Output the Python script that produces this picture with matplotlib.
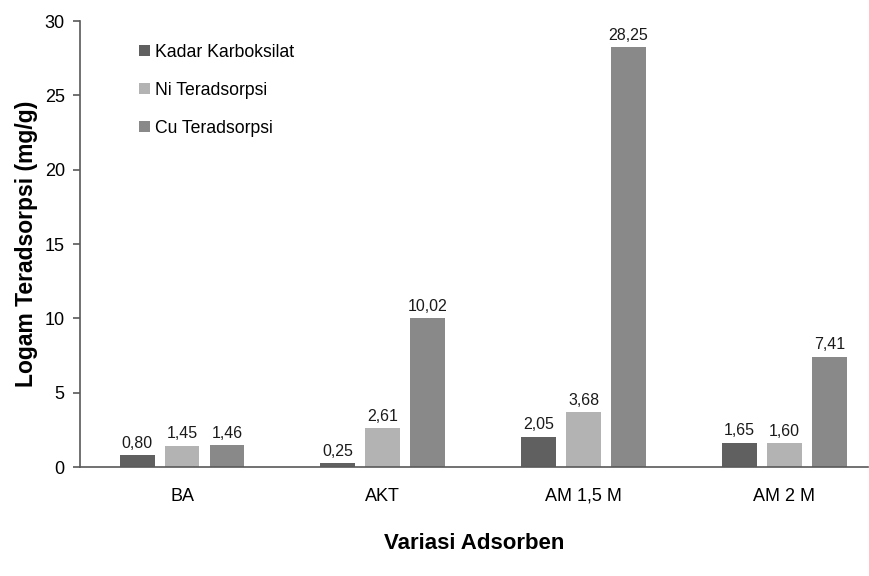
import matplotlib.pyplot as plt
import numpy as np

categories = ["BA", "AKT", "AM 1,5 M", "AM 2 M"]
series_names = ["Kadar Karboksilat", "Ni Teradsorpsi", "Cu Teradsorpsi"]
kadar = [0.80, 0.25, 2.05, 1.65]
ni = [1.45, 2.61, 3.68, 1.60]
cu = [1.46, 10.02, 28.25, 7.41]
colors = ["#606060", "#b3b3b3", "#898989"]

plt.rcParams['font.family'] = ['Liberation Sans', 'DejaVu Sans']

fig = plt.figure(figsize=(8.7, 5.76), dpi=100)
ax = fig.add_axes([0.092, 0.189, 0.906, 0.7745])

x = np.arange(len(categories))
width = 0.174
step = 0.224
for i, (vals, name, c) in enumerate(zip([kadar, ni, cu], series_names, colors)):
    bars = ax.bar(x + (i - 1) * step, vals, width, color=c, label=name)
    for b, v in zip(bars, vals):
        ax.text(b.get_x() + b.get_width() / 2, v + 0.3, f"{v:.2f}".replace(".", ","),
                ha="center", va="bottom", fontsize=11.5, color="#1a1a1a")

ax.set_xlim(-0.508, 3.418)
ax.set_ylim(0, 30)
ax.set_yticks(range(0, 31, 5))
ax.set_xticks(x)
ax.set_xticklabels(categories)
ax.tick_params(axis="y", labelsize=13, length=5, color="#595959", width=1.2, pad=6)
ax.tick_params(axis="x", labelsize=13, length=0, pad=15)
for s in ["top", "right"]:
    ax.spines[s].set_visible(False)
for s in ["left", "bottom"]:
    ax.spines[s].set_color("#595959")
    ax.spines[s].set_linewidth(1.2)

ax.set_ylabel("Logam Teradsorpsi (mg/g)", fontsize=16.5, fontweight="bold", labelpad=5)
ax.set_xlabel("Variasi Adsorben", fontsize=16, fontweight="bold", labelpad=20)

ax.legend(loc="upper left", bbox_to_anchor=(0.055, 0.985), frameon=False, fontsize=12.7,
          handlelength=0.63, handleheight=0.63, handletextpad=0.25, labelspacing=1.2)

fig.savefig("out.png", dpi=100)
